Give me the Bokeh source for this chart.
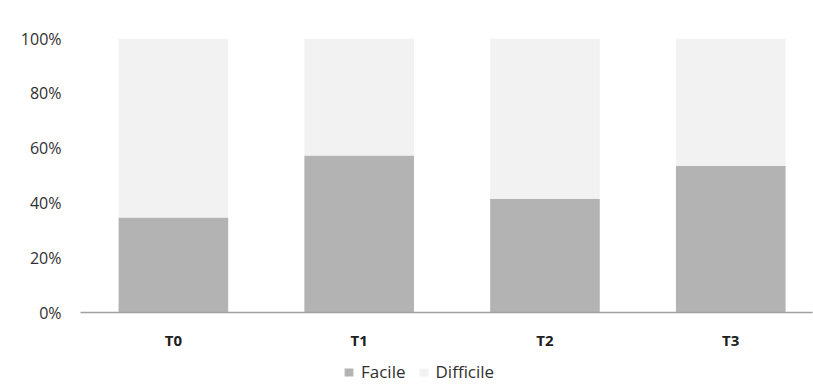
from bokeh.plotting import figure
from bokeh.layouts import column
from bokeh.models import Range1d, FixedTicker, Legend, LegendItem, NumeralTickFormatter
from bokeh.embed import file_html
from bokeh.resources import INLINE

categories = ["T0", "T1", "T2", "T3"]
facile = [0.347, 0.573, 0.415, 0.536]
difficile = [1 - v for v in facile]
y_ticks = [0, 0.2, 0.4, 0.6, 0.8, 1.0]
series_names = ["Facile", "Difficile"]
series_colors = ["#b3b3b3", "#f2f2f2"]

xs = list(range(len(categories)))
tops = [f + d for f, d in zip(facile, difficile)]

p = figure(width=813, height=355, output_backend="svg", toolbar_location=None,
           x_range=Range1d(-0.5, 3.44), y_range=Range1d(0, 1),
           min_border_left=80, min_border_right=1, min_border_top=38, min_border_bottom=43)
p.outline_line_color = None
p.xgrid.visible = False
p.ygrid.visible = False

p.vbar(x=xs, bottom=0, top=facile, width=0.59, fill_color=series_colors[0], line_color=None)
p.vbar(x=xs, bottom=facile, top=tops, width=0.59, fill_color=series_colors[1], line_color=None)

font = "Open Sans"
p.xaxis.ticker = FixedTicker(ticks=xs)
p.xaxis.major_label_overrides = {i: c for i, c in enumerate(categories)}
p.xaxis.major_tick_line_color = None
p.xaxis.minor_tick_line_color = None
p.xaxis.axis_line_color = "#a0a0a0"
p.xaxis.axis_line_width = 1.5
p.xaxis.major_label_text_font = font
p.xaxis.major_label_text_font_style = "bold"
p.xaxis.major_label_text_font_size = "15px"
p.xaxis.major_label_text_color = "#202020"
p.xaxis.major_label_standoff = 11

p.yaxis.ticker = FixedTicker(ticks=y_ticks)
p.yaxis.formatter = NumeralTickFormatter(format="0%")
p.yaxis.axis_line_color = None
p.yaxis.major_tick_line_color = None
p.yaxis.minor_tick_line_color = None
p.yaxis.major_label_text_font = font
p.yaxis.major_label_text_font_size = "16px"
p.yaxis.major_label_text_color = "#303030"
p.yaxis.major_label_standoff = 13

# legend strip (separate figure; its swatch renderers sit outside its view)
lg = figure(width=813, height=30, output_backend="svg", toolbar_location=None,
            x_range=Range1d(100, 101), y_range=Range1d(100, 101),
            x_axis_location=None, y_axis_location=None,
            min_border_left=0, min_border_right=0, min_border_top=0, min_border_bottom=0)
lg.grid.visible = False
lg.outline_line_color = None
rl1 = lg.vbar(x=xs, top=facile, width=0.59, fill_color=series_colors[0], line_color=None)
rl2 = lg.vbar(x=xs, top=tops, width=0.59, fill_color=series_colors[1], line_color=None)

legend = Legend(items=[LegendItem(label=series_names[0], renderers=[rl1]),
                       LegendItem(label=series_names[1], renderers=[rl2])],
                orientation="horizontal", location=(263, 2),
                label_text_font=font, label_text_font_size="17px", label_text_color="#303030",
                glyph_width=11, glyph_height=10, label_standoff=7, spacing=12,
                padding=0, margin=0, border_line_color=None, background_fill_alpha=0,
                label_height=18)
lg.add_layout(legend, "center")

layout = column(p, lg, spacing=0)
open("out.html", "w").write(file_html(layout, INLINE))
